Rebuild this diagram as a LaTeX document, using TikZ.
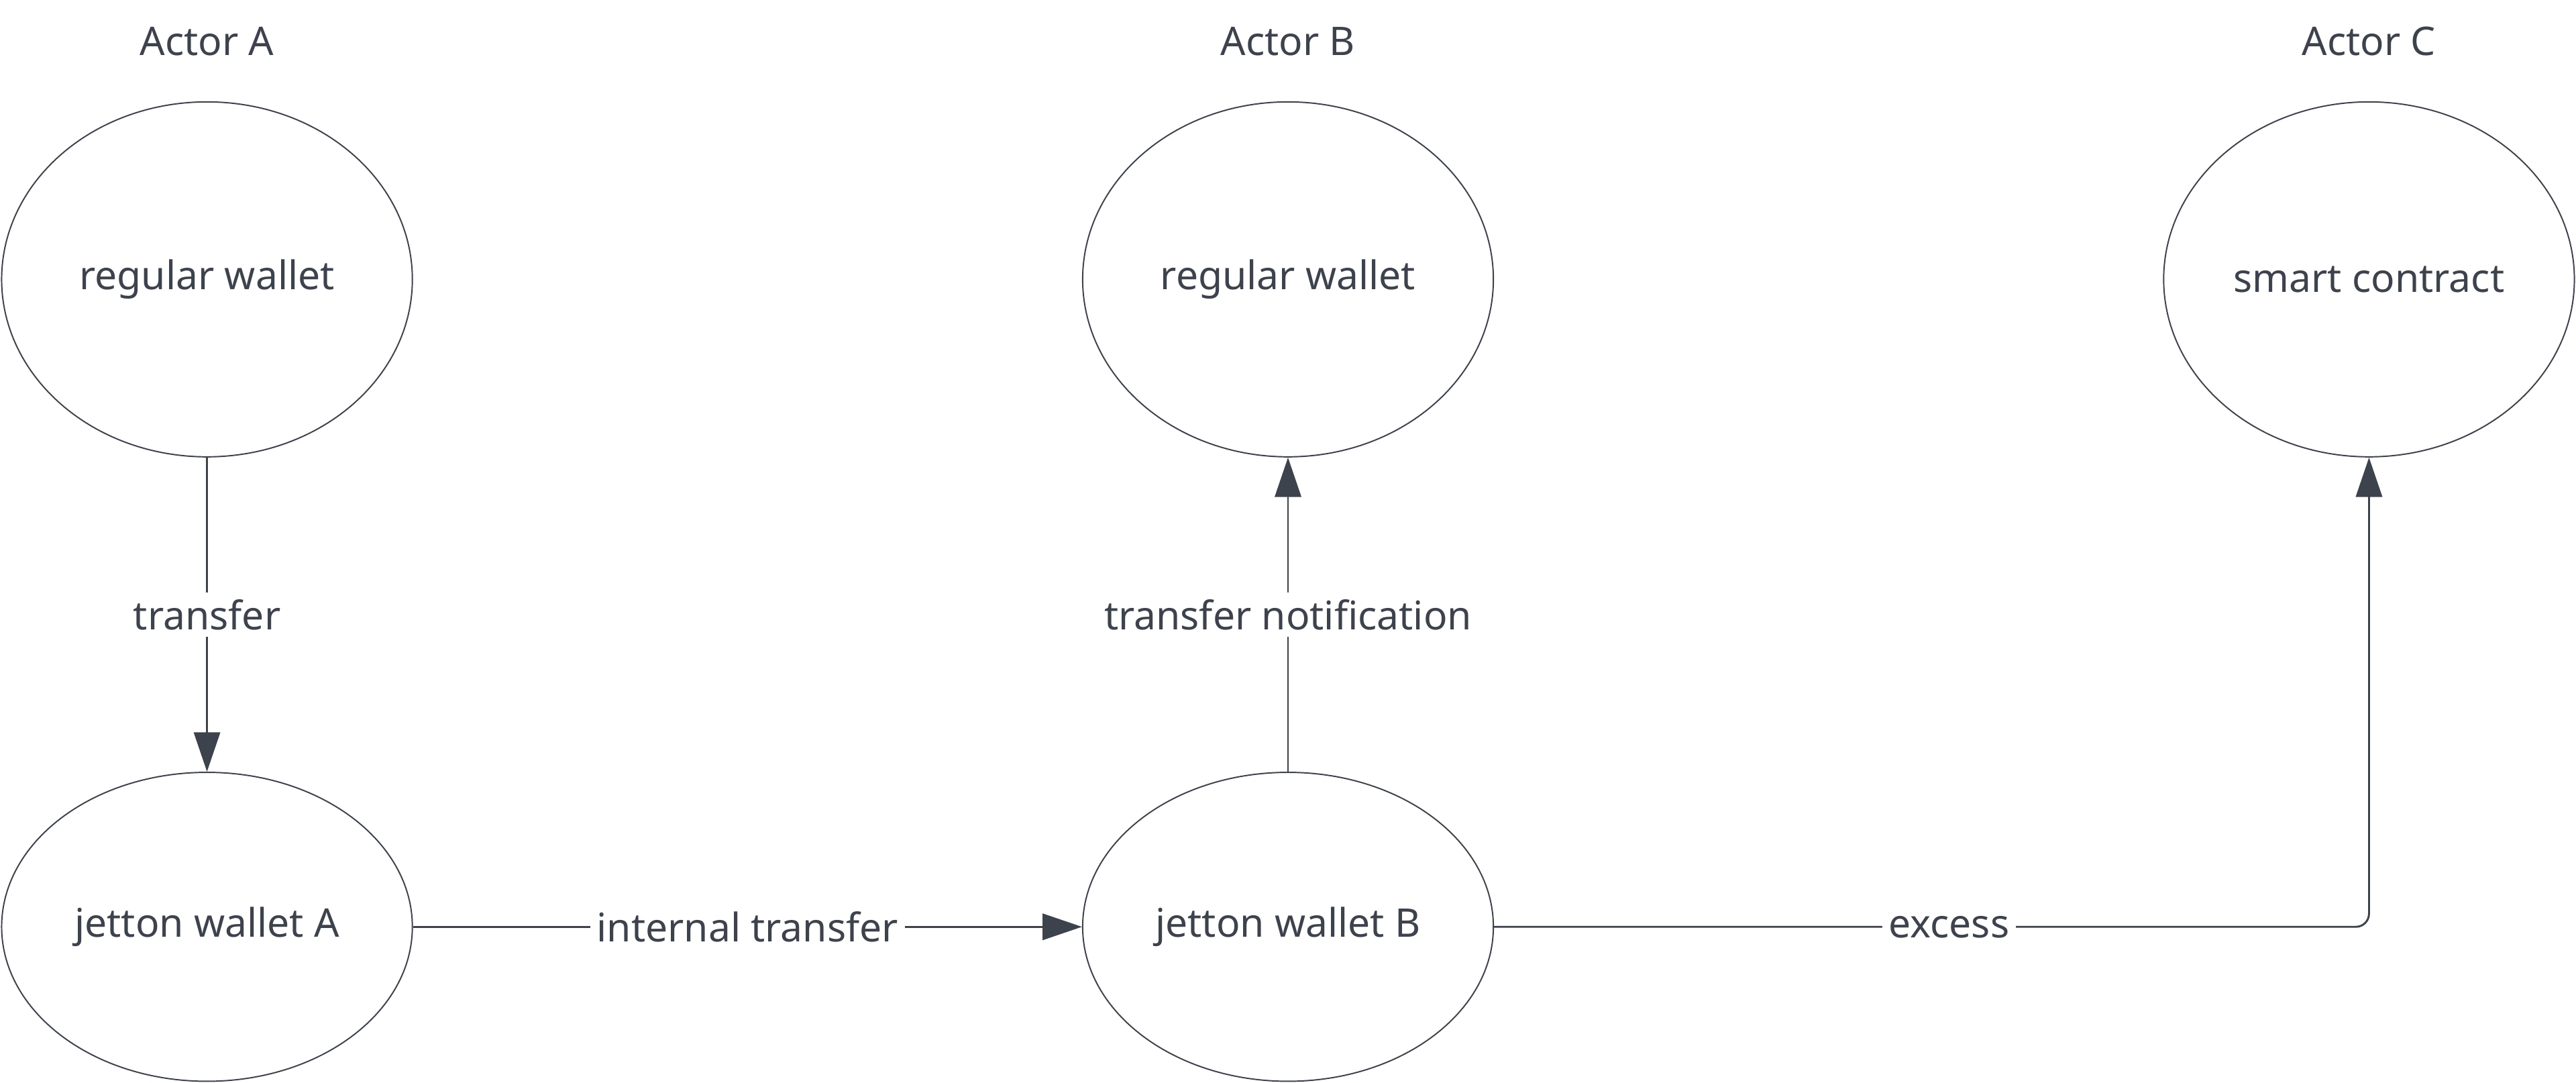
\documentclass[tikz,border=0pt]{standalone}
\usepackage{fontspec}
\setmainfont{Noto Sans}
\usetikzlibrary{arrows.meta,shapes.geometric}
\definecolor{ink}{HTML}{3D434D}
\begin{document}
\begin{tikzpicture}[x=0.5pt,y=-0.5pt, >={Triangle[length=12pt,width=8pt]},
  every node/.style={text=ink,font=\fontsize{12}{14}\selectfont},
  wallet/.style={draw=ink,ellipse,inner sep=0pt,minimum width=125pt,minimum height=108pt},
  jetton/.style={wallet,minimum height=94pt},
  lbl/.style={fill=white,inner sep=2pt},
  flow/.style={draw=ink,line width=0.6pt}]
%%
  \useasboundingbox (0,0) rectangle (1568,659);
  \node (actA) at (126,25) {Actor A};
  \node (actB) at (784,25) {Actor B};
  \node (actC) at (1442,25) {Actor C};
  \node (wA) at (126,170) [wallet] {regular wallet};
  \node (wB) at (784,170) [wallet] {regular wallet};
  \node (sc) at (1442,170) [wallet] {smart contract};
  \node (jA) at (126,564) [jetton] {jetton wallet A};
  \node (jB) at (784,564) [jetton] {jetton wallet B};
  \coordinate (corner) at (1442,564);
  \draw [flow,->] (wA) -- node [lbl] {transfer} (jA);
  \draw [flow,->] (jA) -- node [lbl] {internal transfer} (jB);
  \draw [flow,->] (jB) -- node [lbl] {transfer notification} (wB);
  \draw [flow,->,rounded corners=4pt] (jB.east) -- node [lbl,pos=0.52] {excess} (corner) -- (sc.south);
%
\end{tikzpicture}
\end{document}
